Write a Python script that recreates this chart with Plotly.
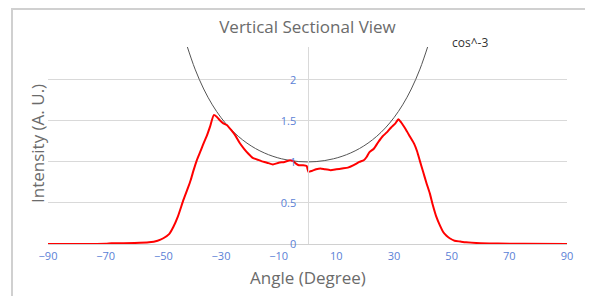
import plotly.graph_objects as go

# Measured intensity (red curve)
angle = [-90, -80, -70, -68, -60, -55, -52, -50, -48, -46.5, -45, -43, -41.5, -40.5, -39.5,
         -38.4, -37, -36, -35, -33.8, -32.5, -31.5, -30.5, -29.2, -28, -26.5, -25, -23.5,
         -22, -20.5, -19, -17.5, -16, -14, -12, -10, -8, -6, -5, -4, -3, -1.5, -0.3, 0.3,
         1.5, 3, 4.5, 6, 8, 10, 12, 14, 16, 18, 19.5, 20.5, 21.5, 23, 24.5, 26, 27.5, 29,
         30.5, 31.5, 32.5, 34, 35.5, 37, 38, 39, 40.1, 41.2, 42.4, 43.5, 44.7, 46, 47, 48.2,
         49.3, 51, 53, 55, 60, 66, 75, 90]
intensity = [0, 0, 0.003, 0.008, 0.012, 0.02, 0.04, 0.07, 0.12, 0.21, 0.33, 0.54, 0.68, 0.78, 0.9,
             1.02, 1.14, 1.23, 1.31, 1.43, 1.57, 1.55, 1.51, 1.47, 1.45, 1.39, 1.32, 1.23,
             1.16, 1.10, 1.05, 1.03, 1.01, 0.99, 0.97, 0.99, 1.00, 1.02, 1.01, 0.98, 0.96, 0.96, 0.95, 0.88,
             0.89, 0.91, 0.92, 0.91, 0.90, 0.91, 0.92, 0.93, 0.96, 1.00, 1.02, 1.06, 1.12, 1.16, 1.24, 1.31, 1.36, 1.42,
             1.47, 1.52, 1.48, 1.40, 1.31, 1.22, 1.13, 1.01, 0.88, 0.75, 0.62, 0.47, 0.33, 0.22, 0.15, 0.10,
             0.07, 0.04, 0.03, 0.02, 0.01, 0.005, 0.002, 0]

# cos^-3 reference curve
cos_angle = [-42, -39, -36, -33, -30, -27, -24, -21, -18, -15, -12, -9, -6, -3, 0,
             3, 6, 9, 12, 15, 18, 21, 24, 27, 30, 33, 36, 39, 42]
cos_value = [2.4366, 2.1305, 1.8885, 1.6952, 1.5396, 1.4137, 1.3116, 1.2290, 1.1625, 1.1096,
             1.0685, 1.0379, 1.0166, 1.0041, 1.0,
             1.0041, 1.0166, 1.0379, 1.0685, 1.1096, 1.1625, 1.2290, 1.3116, 1.4137, 1.5396,
             1.6952, 1.8885, 2.1305, 2.4366]

x_ticks = [-90, -70, -50, -30, -10, 10, 30, 50, 70, 90]
y_ticks = [0, 0.5, 1, 1.5, 2]
y_tick_text = ["0", "0.5", "1", "1.5", "2"]

FONT = "Open Sans"
TICK_COLOR = "#5b7fd6"
GRAY = "#6b6b6b"

# page has an 8px body margin; the figure is sized to fit the window with it
W, H = 585, 288
L, T, R, B = 40, 39, 26, 52
PW = W - L - R   # plot width in px
PH = H - T - B   # plot height in px


def px(xpage):
    return (xpage - 8 - L) / PW


def py(ypage):
    return (H - B - (ypage - 8)) / PH


fig = go.Figure()
fig.add_trace(go.Scatter(x=cos_angle, y=cos_value, mode="lines",
                         line=dict(color="#555555", width=1, shape="spline"),
                         name="cos^-3", hoverinfo="skip"))
fig.add_trace(go.Scatter(x=angle, y=intensity, mode="lines",
                         line=dict(color="#ff0000", width=2, shape="spline", smoothing=0.5),
                         name="Intensity"))

fig.update_layout(
    width=W, height=H,
    margin=dict(l=L, r=R, t=T, b=B, autoexpand=False),
    paper_bgcolor="white", plot_bgcolor="white",
    showlegend=False,
    font=dict(family=FONT, color=GRAY),
    title=dict(text="Vertical Sectional View", x=(307.5 - 8) / W, xanchor="center",
               y=1 - (27 - 8) / H, yanchor="middle",
               font=dict(size=17, color=GRAY, family=FONT)),
    xaxis=dict(range=[-90, 90], tickvals=x_ticks, showgrid=False, zeroline=False,
               showline=False, ticks="", automargin=False, ticklabelstandoff=4,
               tickfont=dict(size=11, color=TICK_COLOR)),
    yaxis=dict(range=[0, 2.4], tickvals=y_ticks, ticktext=y_tick_text,
               anchor="free", position=0.5, side="left", automargin=False,
               showgrid=True, gridcolor="#d9d9d9", gridwidth=1,
               zeroline=True, zerolinecolor="#d0d0d0", zerolinewidth=1,
               showline=True, linecolor="#d9d9d9", linewidth=1,
               ticks="", ticklabelstandoff=9,
               tickfont=dict(size=11, color=TICK_COLOR)),
)

# Axis titles
fig.add_annotation(text="Intensity (A. U.)", xref="paper", yref="paper",
                   x=px(37), y=py(144), xanchor="center", yanchor="middle",
                   showarrow=False, textangle=-90,
                   font=dict(size=17, color=GRAY, family=FONT))
fig.add_annotation(text="Angle (Degree)", xref="paper", yref="paper",
                   x=px(307.5), y=py(277), xanchor="center", yanchor="middle",
                   showarrow=False,
                   font=dict(size=17, color=GRAY, family=FONT))

# Series label
fig.add_annotation(text="cos^-3", xref="paper", yref="paper",
                   x=px(470), y=py(42), xanchor="center", yanchor="middle",
                   showarrow=False,
                   font=dict(size=12, color="#333333", family=FONT))

# Outer frame (top edge kept just inside the figure)
fig.add_shape(type="rect", xref="paper", yref="paper",
              x0=px(12), x1=px(586),
              y0=py(310), y1=py(9),
              line=dict(color="#d0d0d0", width=2), layer="below")

fig.write_html("out.html")
